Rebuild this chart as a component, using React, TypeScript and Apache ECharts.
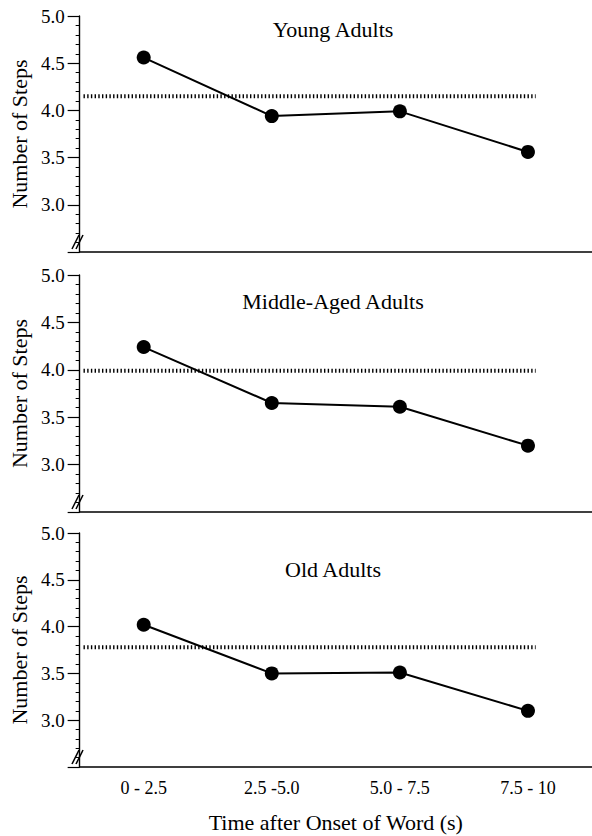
import { useEffect, useRef } from 'react';
import * as echarts from 'echarts';

const categories = ['0 - 2.5', '2.5 -5.0', '5.0 - 7.5', '7.5 - 10'];
const panelTitles = ['Young Adults', 'Middle-Aged Adults', 'Old Adults'];
const youngSteps = [4.56, 3.94, 3.99, 3.56];
const middleSteps = [4.24, 3.65, 3.61, 3.2];
const oldSteps = [4.02, 3.5, 3.51, 3.1];
const meanLevels = [4.15, 3.99, 3.78];
const meanSpan = [0.03, 3.56];
const yMin = 2.5;
const yMax = 5.0;
const yInterval = 0.5;
const xTitle = 'Time after Onset of Word (s)';
const yTitle = 'Number of Steps';

const FONT = '"Liberation Serif", "Times New Roman", serif';

export default function App() {
  const ref = useRef<HTMLDivElement>(null);
  useEffect(() => {
    if (!ref.current) return;
    const chart = echarts.init(ref.current, undefined, { renderer: 'svg' });
    const panels = [youngSteps, middleSteps, oldSteps];
    const grids = [
      { top: 16, height: 236 },
      { top: 275, height: 237 },
      { top: 533, height: 234 },
    ];
    const titleY = [29, 301, 569];
    const axisLeft = 78;

    const xAxes: any[] = [];
    const hiddenX: any[] = [];
    const yAxes: any[] = [];
    const series: any[] = [];
    const graphics: any[] = [];

    panels.forEach((vals, i) => {
      const isLast = i === panels.length - 1;
      xAxes.push({
        type: 'category',
        gridIndex: i,
        data: categories,
        boundaryGap: true,
        axisLine: { show: true, lineStyle: { color: '#000', width: 1.6 } },
        axisTick: { show: false },
        axisLabel: {
          show: isLast,
          color: '#000',
          fontFamily: FONT,
          fontSize: 18,
          margin: 12,
        },
        name: isLast ? xTitle : '',
        nameLocation: 'middle',
        nameGap: 44,
        nameTextStyle: { color: '#000', fontFamily: FONT, fontSize: 22 },
        splitLine: { show: false },
      });
      hiddenX.push({
        type: 'value',
        gridIndex: i,
        min: 0,
        max: 4,
        show: false,
      });
      yAxes.push({
        type: 'value',
        gridIndex: i,
        min: yMin,
        max: yMax,
        interval: yInterval,
        axisLine: { show: true, lineStyle: { color: '#000', width: 1.4 } },
        axisTick: { show: true, length: 12, lineStyle: { color: '#000', width: 1.2 } },
        minorTick: { show: true, splitNumber: 5, length: 4, lineStyle: { color: '#000', width: 1 } },
        axisLabel: {
          color: '#000',
          fontFamily: FONT,
          fontSize: 19,
          margin: 15,
          showMinLabel: false,
          formatter: (v: number) => (v <= yMin + 1e-9 ? '' : v.toFixed(1)),
        },
        splitLine: { show: false },
        name: yTitle,
        nameLocation: 'middle',
        nameGap: 38,
        nameRotate: 90,
        nameTextStyle: { color: '#000', fontFamily: FONT, fontSize: 22 },
      });
      series.push({
        type: 'line',
        xAxisIndex: panels.length + i,
        yAxisIndex: i,
        data: meanSpan.map((x) => [x, meanLevels[i]]),
        symbol: 'none',
        lineStyle: { color: '#000', width: 4, type: [1.4, 2.3] },
        z: 2,
        silent: true,
      });
      series.push({
        type: 'line',
        xAxisIndex: i,
        yAxisIndex: i,
        data: vals,
        symbol: 'circle',
        symbolSize: 14,
        lineStyle: { color: '#000', width: 2 },
        itemStyle: { color: '#000' },
        z: 3,
      });
      graphics.push({
        type: 'text',
        x: 333,
        y: titleY[i],
        style: {
          text: panelTitles[i],
          fill: '#000',
          font: `22px ${FONT}`,
          textAlign: 'center',
          textVerticalAlign: 'middle',
        },
      });
      const bottom = grids[i].top + grids[i].height;
      [0, 4].forEach((dx) => {
        graphics.push({
          type: 'line',
          shape: {
            x1: axisLeft - 6 + dx,
            y1: bottom - 3,
            x2: axisLeft + 1 + dx,
            y2: bottom - 17,
          },
          style: { stroke: '#000', lineWidth: 1.6 },
          z: 10,
        });
      });
    });

    chart.setOption({
      animation: false,
      backgroundColor: '#fff',
      grid: grids.map((g) => ({ left: axisLeft, right: 0, top: g.top, height: g.height })),
      xAxis: [...xAxes, ...hiddenX],
      yAxis: yAxes,
      series,
      graphic: graphics,
    });
    return () => chart.dispose();
  }, []);
  return (
    <div
      ref={ref}
      style={{ position: 'fixed', left: 0, top: 0, width: 592, height: 836, background: '#fff' }}
    />
  );
}
